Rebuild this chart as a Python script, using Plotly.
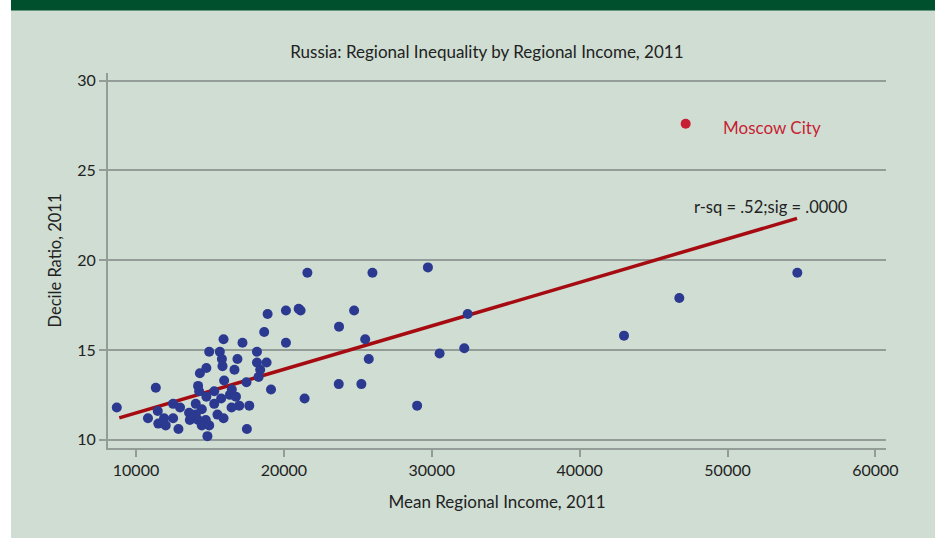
import plotly.graph_objects as go

# regional data (mean income, decile ratio)
income = [8700, 11340, 11470, 10810, 11900, 11510, 12010, 12510, 12510, 12870,
          12980, 13590, 13640, 14040, 14040, 14200, 14320, 14760, 14270, 14450,
          14200, 14720, 14450, 14950, 14830, 14760, 15290, 15290, 15510, 15920,
          15760, 15960, 16350, 16480, 16760, 16460, 16980, 17660, 17500, 17470,
          14950, 15670, 15810, 15850, 15920, 16660, 16860, 17200, 18180, 18180,
          18400, 18290, 18830, 19130, 18670, 18900, 20140, 21000, 20140, 21590,
          25990, 29740, 21130, 24750, 23730, 25500, 25740, 30530, 32200, 32430,
          23710, 25240, 21400, 29010, 43000, 46740, 54720]
decile = [11.8, 12.9, 11.6, 11.2, 11.2, 10.9, 10.8, 11.2, 12.0, 10.6,
          11.8, 11.5, 11.1, 12.0, 11.4, 13.0, 13.7, 14.0, 12.7, 11.7,
          11.1, 11.1, 10.8, 10.8, 10.2, 12.4, 12.7, 12.0, 11.4, 11.2,
          12.3, 13.3, 12.5, 12.8, 12.4, 11.8, 11.9, 11.9, 10.6, 13.2,
          14.9, 14.9, 14.5, 14.1, 15.6, 13.9, 14.5, 15.4, 14.9, 14.3,
          13.9, 13.5, 14.3, 12.8, 16.0, 17.0, 17.2, 17.3, 15.4, 19.3,
          19.3, 19.6, 17.2, 17.2, 16.3, 15.6, 14.5, 14.8, 15.1, 17.0,
          13.1, 13.1, 12.3, 11.9, 15.8, 17.9, 19.3]

moscow_income = [47170]
moscow_decile = [27.6]

# regression line end points
fit_x = [8870, 54700]
fit_y = [11.22, 22.33]

bg = "#CFDDD2"
grid = "#939C97"
font = "Lato, 'Open Sans', sans-serif"

fig = go.Figure()
fig.add_trace(go.Scatter(x=fit_x, y=fit_y, mode="lines",
                         line=dict(color="#A60B12", width=3.5),
                         hoverinfo="skip", showlegend=False))
fig.add_trace(go.Scatter(x=income, y=decile, mode="markers",
                         marker=dict(color="#2B3990", size=10),
                         showlegend=False))
fig.add_trace(go.Scatter(x=moscow_income, y=moscow_decile, mode="markers",
                         marker=dict(color="#C81E34", size=10),
                         showlegend=False))

fig.add_annotation(x=49560, y=27.4, text="Moscow City", showarrow=False,
                   xanchor="left", font=dict(color="#C81E34", size=17, family=font))
fig.add_annotation(x=47600, y=22.98, text="r-sq = .52;sig = .0000", showarrow=False,
                   xanchor="left", font=dict(color="#222222", size=16.5, family=font))

# white strip on the left and dark green band on top
fig.add_shape(type="rect", xref="paper", yref="paper",
              x0=-0.15, x1=-0.1247, y0=-0.3, y1=1.25,
              fillcolor="white", line_width=0, layer="below")
fig.add_shape(type="rect", xref="paper", yref="paper",
              x0=-0.1247, x1=1.1, y0=1.1667, y1=1.25,
              fillcolor="#00502E", line_width=0)

fig.update_layout(
    width=935, height=538,
    margin=dict(l=108, r=49, t=73, b=90),
    paper_bgcolor=bg, plot_bgcolor=bg,
    font=dict(family=font, size=16, color="#222222"),
    title=dict(text="Russia: Regional Inequality by Regional Income, 2011",
               x=0.487, xref="paper", xanchor="center",
               y=1 - 52 / 538, yref="container", yanchor="middle",
               font=dict(size=17, family=font, color="#222222")),
    xaxis=dict(range=[8107, 60717], tickvals=[10000, 20000, 30000, 40000, 50000, 60000],
               tickformat="d", automargin=False,
               showgrid=False, zeroline=False, showline=True, linecolor=grid, linewidth=2,
               ticks="outside", ticklen=7, tickcolor=grid, tickwidth=2,
               title=dict(text="Mean Regional Income, 2011", standoff=18,
                          font=dict(size=17))),
    yaxis=dict(range=[9.54, 30.43], tickvals=[10, 15, 20, 25, 30], automargin=False,
               showgrid=True, gridcolor=grid, gridwidth=2, zeroline=False,
               showline=True, linecolor=grid, linewidth=2,
               ticks="outside", ticklen=7, tickcolor=grid, tickwidth=2,
               title=dict(text="Decile Ratio, 2011", standoff=11,
                          font=dict(size=16.5))),
)

# drop the default page margin so the figure sits at the window corner
fig.write_html("out.html", config={"displayModeBar": False},
               post_script="document.body.style.margin = '0';")
